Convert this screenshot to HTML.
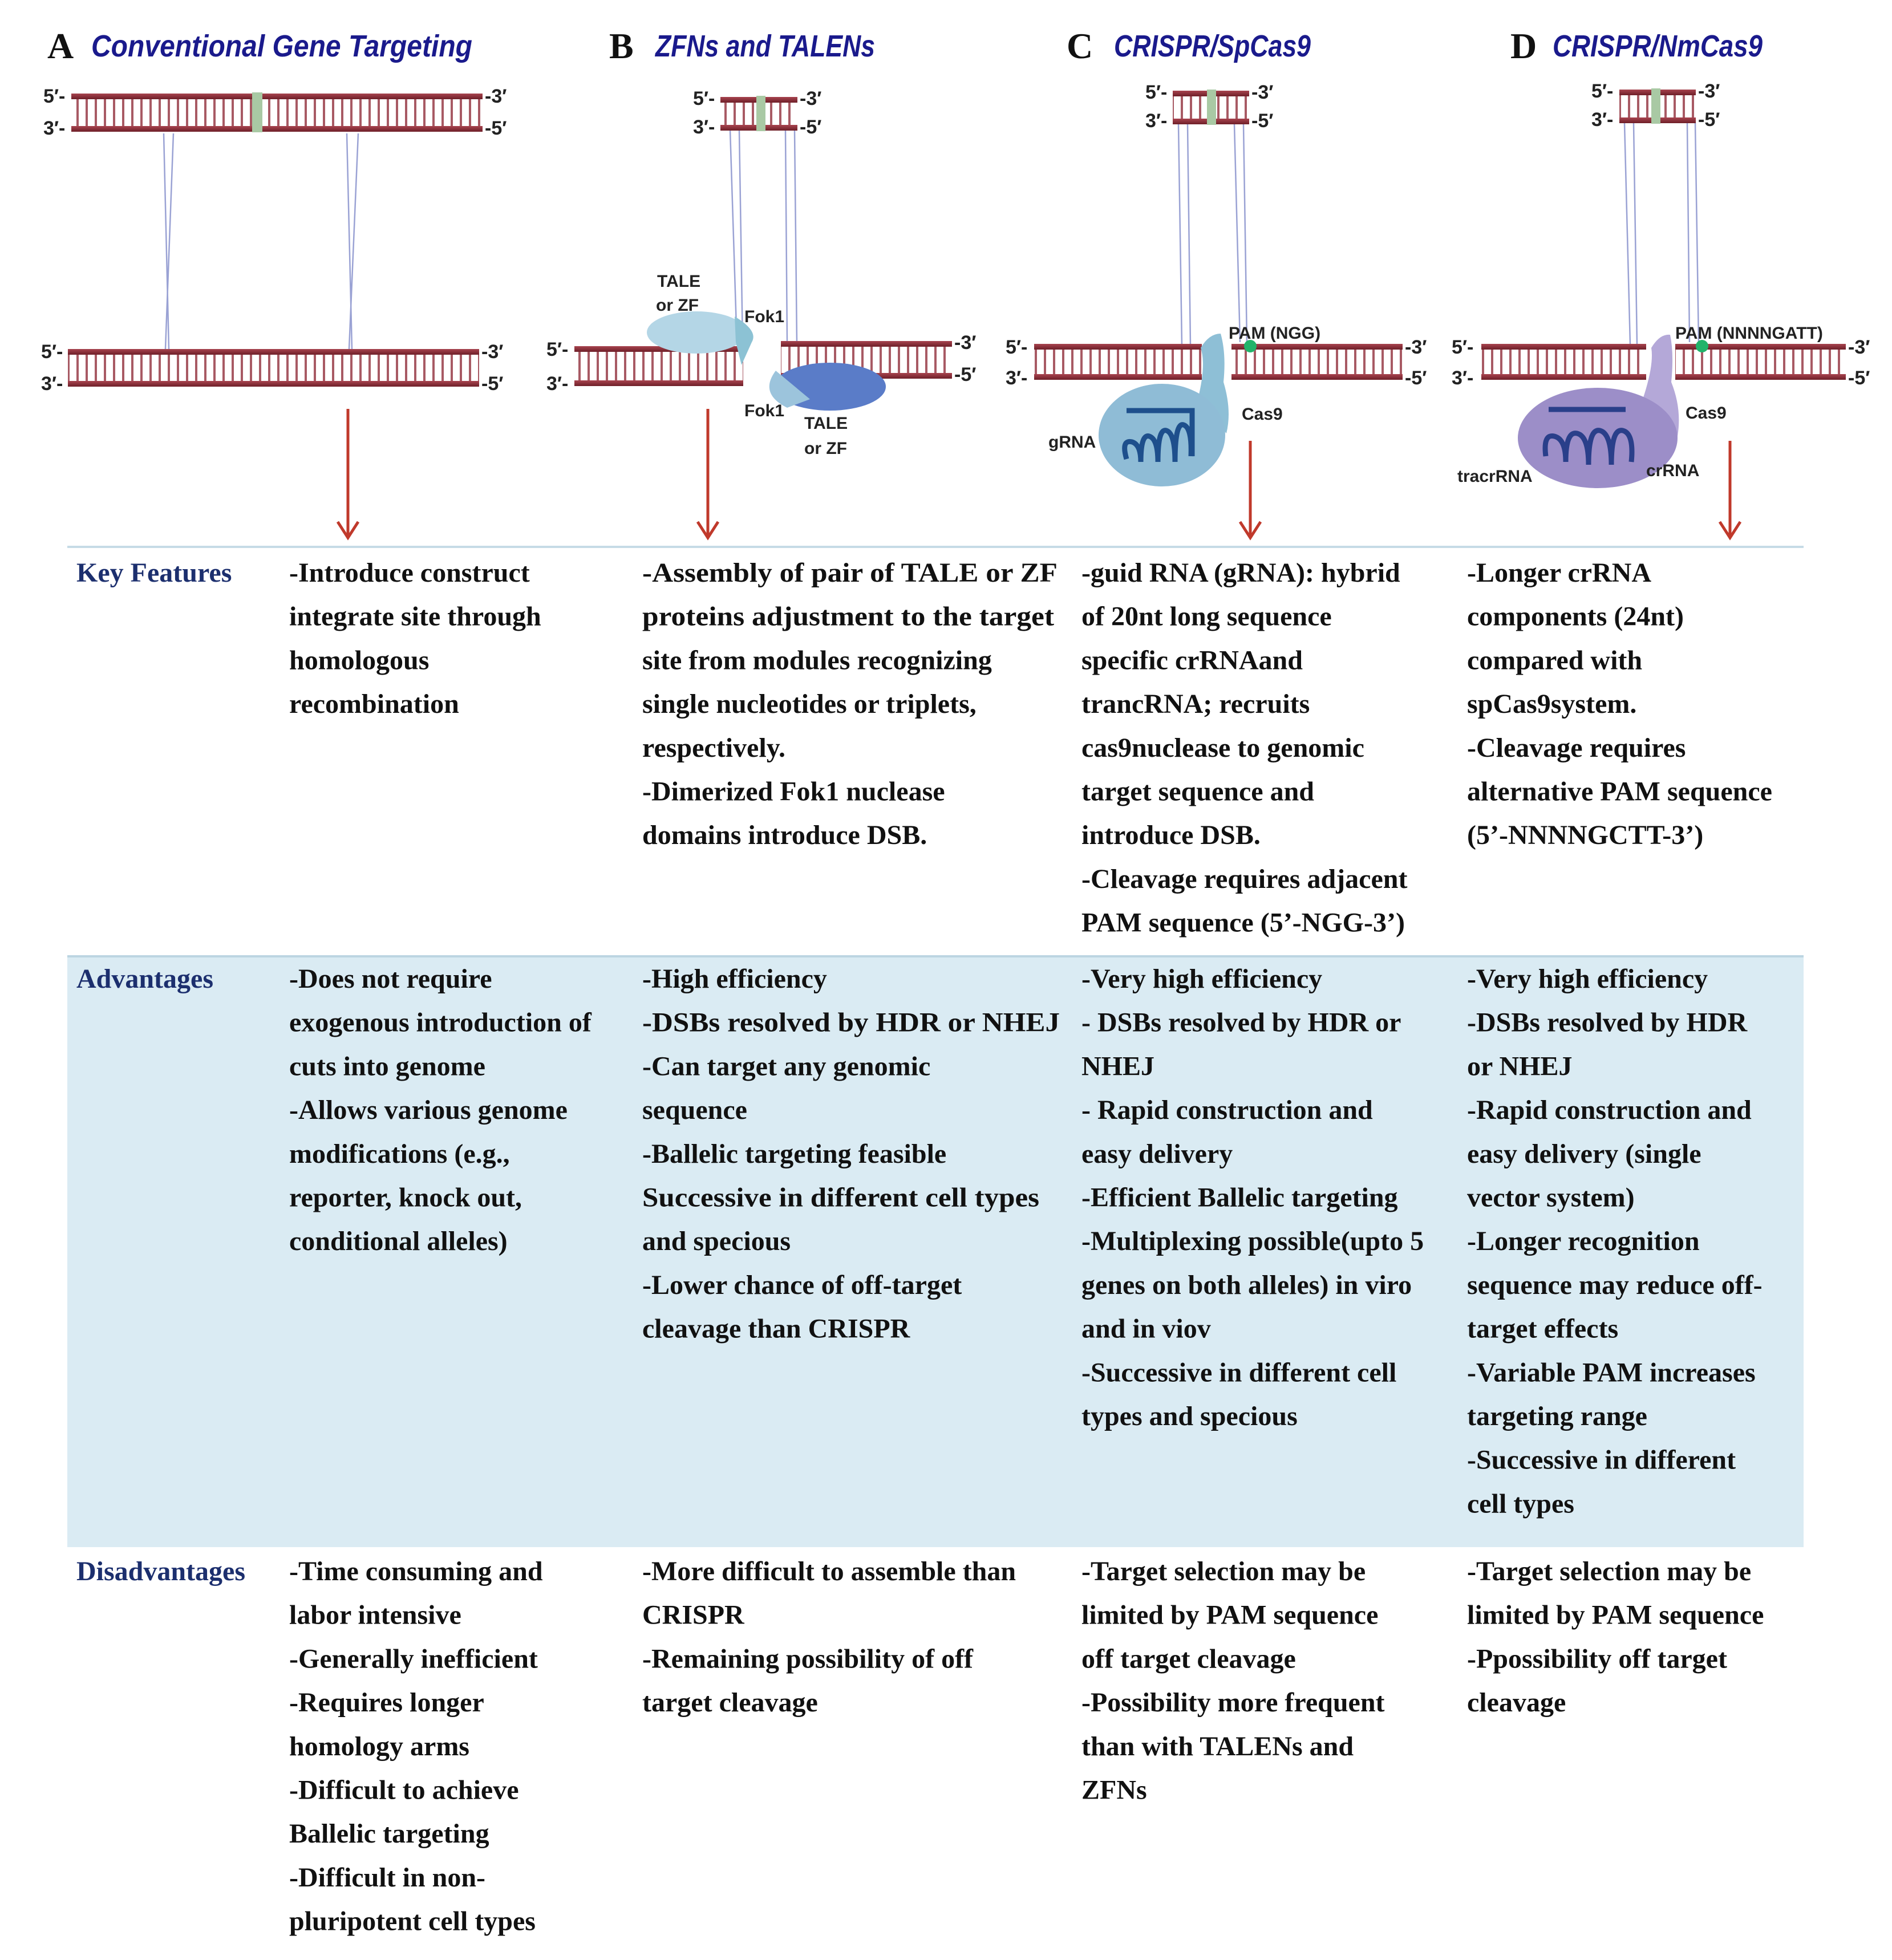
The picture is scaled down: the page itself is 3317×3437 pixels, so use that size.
<!DOCTYPE html>
<html><head><meta charset="utf-8"><style>
html,body{margin:0;padding:0;background:#fff;}
svg{display:block;}
.t{font-family:"Liberation Serif",serif;font-weight:bold;font-size:48px;fill:#111;}
.lab{font-family:"Liberation Serif",serif;font-weight:bold;font-size:48px;fill:#1c2f6e;}
.hd{font-family:"Liberation Sans",sans-serif;font-weight:bold;font-style:italic;font-size:54px;fill:#1a1a8c;}
.let{font-family:"Liberation Serif",serif;font-weight:bold;font-size:64px;fill:#111;}
.s{font-family:"Liberation Sans",sans-serif;font-weight:bold;font-size:30px;fill:#222;}
.p{font-family:"Liberation Sans",sans-serif;font-weight:bold;font-size:34px;fill:#222;}
</style></head><body>
<svg width="3317" height="3437" viewBox="0 0 3317 3437" xmlns="http://www.w3.org/2000/svg">
<defs>
<pattern id="r" width="16" height="10" patternUnits="userSpaceOnUse"><rect x="6" y="0" width="4" height="10" fill="#a85a64"/></pattern>
<linearGradient id="st" x1="0" y1="0" x2="0" y2="1"><stop offset="0" stop-color="#a8444f"/><stop offset="1" stop-color="#6e1f28"/></linearGradient>
</defs>
<rect width="3317" height="3437" fill="#fff"/>

<!-- titles -->
<text class="let" x="83" y="102">A</text><text class="hd" x="160" y="99" textLength="668" lengthAdjust="spacingAndGlyphs">Conventional Gene Targeting</text>
<text class="let" x="1068" y="102">B</text><text class="hd" x="1149" y="99" textLength="385" lengthAdjust="spacingAndGlyphs">ZFNs and TALENs</text>
<text class="let" x="1870" y="102">C</text><text class="hd" x="1953" y="99" textLength="345" lengthAdjust="spacingAndGlyphs">CRISPR/SpCas9</text>
<text class="let" x="2648" y="102">D</text><text class="hd" x="2722" y="99" textLength="368" lengthAdjust="spacingAndGlyphs">CRISPR/NmCas9</text>

<!-- connecting lines -->
<g stroke="#9aa2d4" stroke-width="2.5" fill="none">
<line x1="287" y1="234" x2="296" y2="612"/><line x1="304" y1="234" x2="290" y2="612"/>
<line x1="608" y1="234" x2="617" y2="612"/><line x1="628" y1="234" x2="612" y2="612"/>
<line x1="1280" y1="228" x2="1292" y2="605"/><line x1="1296" y1="228" x2="1302" y2="605"/>
<line x1="1377" y1="228" x2="1380" y2="600"/><line x1="1393" y1="228" x2="1397" y2="600"/>
<line x1="2066" y1="218" x2="2072" y2="605"/><line x1="2082" y1="218" x2="2087" y2="605"/>
<line x1="2164" y1="218" x2="2174" y2="600"/><line x1="2180" y1="218" x2="2186" y2="600"/>
<line x1="2848" y1="216" x2="2858" y2="605"/><line x1="2864" y1="216" x2="2870" y2="605"/>
<line x1="2958" y1="216" x2="2962" y2="600"/><line x1="2972" y1="216" x2="2978" y2="600"/>
</g>

<!-- DNA helper drawings -->
<g>
<!-- A top -->
<rect x="125" y="173" width="721" height="48" fill="url(#r)"/>
<rect x="125" y="164" width="721" height="10" fill="url(#st)"/><rect x="125" y="221" width="721" height="10" fill="url(#st)"/>
<rect x="442" y="162" width="18" height="70" fill="#a9c9a4"/>
<!-- A bottom -->
<rect x="119" y="622" width="721" height="48" fill="url(#r)"/>
<rect x="119" y="612" width="721" height="10" fill="url(#st)"/><rect x="119" y="668" width="721" height="10" fill="url(#st)"/>
<!-- B top -->
<rect x="1263" y="179" width="135" height="42" fill="url(#r)"/>
<rect x="1263" y="170" width="135" height="10" fill="url(#st)"/><rect x="1263" y="219" width="135" height="10" fill="url(#st)"/>
<rect x="1326" y="168" width="16" height="62" fill="#a9c9a4"/>
<!-- B bottom -->
<rect x="1007" y="617" width="296" height="52" fill="url(#r)"/>
<rect x="1007" y="607" width="296" height="10" fill="url(#st)"/><rect x="1007" y="667" width="296" height="10" fill="url(#st)"/>
<rect x="1369" y="608" width="300" height="48" fill="url(#r)"/>
<rect x="1369" y="598" width="300" height="10" fill="url(#st)"/><rect x="1369" y="654" width="300" height="10" fill="url(#st)"/>
<!-- C top -->
<rect x="2056" y="168" width="134" height="42" fill="url(#r)"/>
<rect x="2056" y="159" width="134" height="10" fill="url(#st)"/><rect x="2056" y="208" width="134" height="10" fill="url(#st)"/>
<rect x="2116" y="157" width="16" height="62" fill="#a9c9a4"/>
<!-- C bottom -->
<rect x="1813" y="612" width="294" height="46" fill="url(#r)"/>
<rect x="1813" y="603" width="294" height="10" fill="url(#st)"/><rect x="1813" y="656" width="294" height="10" fill="url(#st)"/>
<rect x="2159" y="612" width="300" height="46" fill="url(#r)"/>
<rect x="2159" y="603" width="300" height="10" fill="url(#st)"/><rect x="2159" y="656" width="300" height="10" fill="url(#st)"/>
<!-- D top -->
<rect x="2839" y="166" width="134" height="42" fill="url(#r)"/>
<rect x="2839" y="157" width="134" height="10" fill="url(#st)"/><rect x="2839" y="206" width="134" height="10" fill="url(#st)"/>
<rect x="2895" y="155" width="16" height="62" fill="#a9c9a4"/>
<!-- D bottom -->
<rect x="2597" y="612" width="289" height="46" fill="url(#r)"/>
<rect x="2597" y="603" width="289" height="10" fill="url(#st)"/><rect x="2597" y="656" width="289" height="10" fill="url(#st)"/>
<rect x="2937" y="612" width="299" height="46" fill="url(#r)"/>
<rect x="2937" y="603" width="299" height="10" fill="url(#st)"/><rect x="2937" y="656" width="299" height="10" fill="url(#st)"/>
</g>

<!-- DNA end labels -->
<g class="p">
<text x="76" y="180">5′-</text><text x="850" y="180">-3′</text>
<text x="76" y="236">3′-</text><text x="850" y="236">-5′</text>
<text x="72" y="628">5′-</text><text x="844" y="628">-3′</text>
<text x="72" y="684">3′-</text><text x="844" y="684">-5′</text>
<text x="1215" y="184">5′-</text><text x="1402" y="184">-3′</text>
<text x="1215" y="234">3′-</text><text x="1402" y="234">-5′</text>
<text x="958" y="624">5′-</text><text x="1673" y="612">-3′</text>
<text x="958" y="684">3′-</text><text x="1673" y="668">-5′</text>
<text x="2008" y="173">5′-</text><text x="2194" y="173">-3′</text>
<text x="2008" y="223">3′-</text><text x="2194" y="223">-5′</text>
<text x="1763" y="620">5′-</text><text x="2463" y="620">-3′</text>
<text x="1763" y="674">3′-</text><text x="2463" y="674">-5′</text>
<text x="2790" y="171">5′-</text><text x="2977" y="171">-3′</text>
<text x="2790" y="221">3′-</text><text x="2977" y="221">-5′</text>
<text x="2545" y="620">5′-</text><text x="3240" y="620">-3′</text>
<text x="2545" y="674">3′-</text><text x="3240" y="674">-5′</text>
</g>

<!-- B proteins -->
<ellipse cx="1221" cy="583" rx="87" ry="37" fill="#b4d6e6"/>
<path d="M1288 555 Q1330 580 1318 600 L1300 640 L1290 600 Z" fill="#8cc2d4"/>
<ellipse cx="1455" cy="678" rx="98" ry="42" fill="#5a7cc8"/>
<path d="M1360 650 Q1330 690 1380 715 L1420 700 Z" fill="#9cc4dc"/>
<g class="s">
<text x="1152" y="503">TALE</text><text x="1150" y="545">or ZF</text>
<text x="1305" y="565">Fok1</text><text x="1305" y="730">Fok1</text>
<text x="1410" y="752">TALE</text><text x="1410" y="796">or ZF</text>
</g>

<!-- C Cas9 -->
<path d="M2100 700 Q2115 640 2105 610 Q2120 585 2140 585 Q2150 620 2145 670 Q2160 720 2150 760 Z" fill="#8ebfd6"/>
<ellipse cx="2037" cy="763" rx="111" ry="90" fill="#8fbcd6"/>
<path d="M1975 720 H2090 V800 M1975 805 Q1965 770 1985 775 Q2000 780 2000 810 Q2000 760 2015 765 Q2030 770 2030 810 Q2030 750 2045 755 Q2060 760 2060 810 Q2060 740 2075 745 Q2090 750 2088 800" stroke="#1e4f8c" stroke-width="9" fill="none"/>
<circle cx="2192" cy="607" r="11" fill="#22b36a"/>
<text class="s" x="2154" y="594">PAM (NGG)</text>
<text class="s" x="2177" y="736">Cas9</text>
<text class="s" x="1838" y="785">gRNA</text>

<!-- D Cas9 -->
<path d="M2880 700 Q2900 640 2895 610 Q2910 585 2928 587 Q2935 620 2930 670 Q2950 720 2940 770 Z" fill="#b4a8d8"/>
<ellipse cx="2801" cy="768" rx="140" ry="88" fill="#9c8ec8"/>
<path d="M2715 718 H2850 M2710 800 Q2705 760 2725 765 Q2745 770 2745 810 Q2745 755 2765 760 Q2785 765 2785 815 Q2785 750 2805 755 Q2825 760 2825 815 Q2825 750 2845 755 Q2865 760 2860 810" stroke="#2a3f8a" stroke-width="9" fill="none"/>
<circle cx="2984" cy="607" r="11" fill="#22b36a"/>
<text class="s" x="2937" y="594">PAM (NNNNGATT)</text>
<text class="s" x="2955" y="734">Cas9</text>
<text class="s" x="2555" y="845">tracrRNA</text>
<text class="s" x="2886" y="835">crRNA</text>

<!-- red arrows -->
<g stroke="#c0392b" stroke-width="5" fill="none">
<line x1="610" y1="717" x2="610" y2="943"/><polyline points="592,915 610,943 628,915"/>
<line x1="1241" y1="717" x2="1241" y2="943"/><polyline points="1223,915 1241,943 1259,915"/>
<line x1="2192" y1="773" x2="2192" y2="943"/><polyline points="2174,915 2192,943 2210,915"/>
<line x1="3033" y1="773" x2="3033" y2="943"/><polyline points="3015,915 3033,943 3051,915"/>
</g>

<!-- table -->
<rect x="118" y="957" width="3044" height="4" fill="#c6dbe6"/>
<rect x="118" y="1675" width="3044" height="1038" fill="#daebf3"/>
<rect x="118" y="1675" width="3044" height="4" fill="#bcd5e2"/>

<text class="lab" x="134" y="1020">Key Features</text>
<text class="lab" x="134" y="1732">Advantages</text>
<text class="lab" x="134" y="2771">Disadvantages</text>

<text class="t" x="507" y="1020"><tspan x="507">-Introduce construct</tspan><tspan x="507" dy="76.7">integrate site through</tspan><tspan x="507" dy="76.7">homologous</tspan><tspan x="507" dy="76.7">recombination</tspan></text>
<text class="t" x="1126" y="1020"><tspan x="1126" textLength="728" lengthAdjust="spacingAndGlyphs">-Assembly of pair of TALE or ZF</tspan><tspan x="1126" dy="76.7" textLength="722" lengthAdjust="spacingAndGlyphs">proteins adjustment to the target</tspan><tspan x="1126" dy="76.7">site from modules recognizing</tspan><tspan x="1126" dy="76.7">single nucleotides or triplets,</tspan><tspan x="1126" dy="76.7">respectively.</tspan><tspan x="1126" dy="76.7">-Dimerized Fok1 nuclease</tspan><tspan x="1126" dy="76.7">domains introduce DSB.</tspan></text>
<text class="t" x="1896" y="1020"><tspan x="1896">-guid RNA (gRNA): hybrid</tspan><tspan x="1896" dy="76.7">of 20nt long sequence</tspan><tspan x="1896" dy="76.7">specific crRNAand</tspan><tspan x="1896" dy="76.7">trancRNA; recruits</tspan><tspan x="1896" dy="76.7">cas9nuclease to genomic</tspan><tspan x="1896" dy="76.7">target sequence and</tspan><tspan x="1896" dy="76.7">introduce DSB.</tspan><tspan x="1896" dy="76.7">-Cleavage requires adjacent</tspan><tspan x="1896" dy="76.7">PAM sequence (5’-NGG-3’)</tspan></text>
<text class="t" x="2572" y="1020"><tspan x="2572">-Longer crRNA</tspan><tspan x="2572" dy="76.7">components (24nt)</tspan><tspan x="2572" dy="76.7">compared with</tspan><tspan x="2572" dy="76.7">spCas9system.</tspan><tspan x="2572" dy="76.7">-Cleavage requires</tspan><tspan x="2572" dy="76.7">alternative PAM sequence</tspan><tspan x="2572" dy="76.7">(5’-NNNNGCTT-3’)</tspan></text>

<text class="t" x="507" y="1732"><tspan x="507">-Does not require</tspan><tspan x="507" dy="76.7">exogenous introduction of</tspan><tspan x="507" dy="76.7">cuts into genome</tspan><tspan x="507" dy="76.7">-Allows various genome</tspan><tspan x="507" dy="76.7">modifications (e.g.,</tspan><tspan x="507" dy="76.7">reporter, knock out,</tspan><tspan x="507" dy="76.7">conditional alleles)</tspan></text>
<text class="t" x="1126" y="1732"><tspan x="1126">-High efficiency</tspan><tspan x="1126" dy="76.7" textLength="732" lengthAdjust="spacingAndGlyphs">-DSBs resolved  by HDR or NHEJ</tspan><tspan x="1126" dy="76.7">-Can target any genomic</tspan><tspan x="1126" dy="76.7">sequence</tspan><tspan x="1126" dy="76.7">-Ballelic targeting feasible</tspan><tspan x="1126" dy="76.7" textLength="696" lengthAdjust="spacingAndGlyphs">Successive in different cell types</tspan><tspan x="1126" dy="76.7">and specious</tspan><tspan x="1126" dy="76.7">-Lower chance of off-target</tspan><tspan x="1126" dy="76.7">cleavage than CRISPR</tspan></text>
<text class="t" x="1896" y="1732"><tspan x="1896">-Very high efficiency</tspan><tspan x="1896" dy="76.7">- DSBs resolved  by HDR or</tspan><tspan x="1896" dy="76.7">NHEJ</tspan><tspan x="1896" dy="76.7">- Rapid construction and</tspan><tspan x="1896" dy="76.7">easy delivery</tspan><tspan x="1896" dy="76.7">-Efficient Ballelic targeting</tspan><tspan x="1896" dy="76.7">-Multiplexing possible(upto 5</tspan><tspan x="1896" dy="76.7">genes on both alleles) in viro</tspan><tspan x="1896" dy="76.7">and in viov</tspan><tspan x="1896" dy="76.7">-Successive in different cell</tspan><tspan x="1896" dy="76.7">types and specious</tspan></text>
<text class="t" x="2572" y="1732"><tspan x="2572">-Very high efficiency</tspan><tspan x="2572" dy="76.7">-DSBs resolved  by HDR</tspan><tspan x="2572" dy="76.7">or NHEJ</tspan><tspan x="2572" dy="76.7">-Rapid construction and</tspan><tspan x="2572" dy="76.7">easy delivery (single</tspan><tspan x="2572" dy="76.7">vector system)</tspan><tspan x="2572" dy="76.7">-Longer recognition</tspan><tspan x="2572" dy="76.7">sequence may reduce off-</tspan><tspan x="2572" dy="76.7">target effects</tspan><tspan x="2572" dy="76.7">-Variable PAM increases</tspan><tspan x="2572" dy="76.7">targeting range</tspan><tspan x="2572" dy="76.7">-Successive in different</tspan><tspan x="2572" dy="76.7">cell types</tspan></text>

<text class="t" x="507" y="2771"><tspan x="507">-Time consuming and</tspan><tspan x="507" dy="76.7">labor intensive</tspan><tspan x="507" dy="76.7">-Generally inefficient</tspan><tspan x="507" dy="76.7">-Requires longer</tspan><tspan x="507" dy="76.7">homology arms</tspan><tspan x="507" dy="76.7">-Difficult to achieve</tspan><tspan x="507" dy="76.7">Ballelic targeting</tspan><tspan x="507" dy="76.7">-Difficult in non-</tspan><tspan x="507" dy="76.7">pluripotent cell types</tspan></text>
<text class="t" x="1126" y="2771"><tspan x="1126">-More difficult to assemble than</tspan><tspan x="1126" dy="76.7">CRISPR</tspan><tspan x="1126" dy="76.7">-Remaining possibility of off</tspan><tspan x="1126" dy="76.7">target cleavage</tspan></text>
<text class="t" x="1896" y="2771"><tspan x="1896">-Target selection may be</tspan><tspan x="1896" dy="76.7">limited by PAM sequence</tspan><tspan x="1896" dy="76.7">off target cleavage</tspan><tspan x="1896" dy="76.7">-Possibility more frequent</tspan><tspan x="1896" dy="76.7">than with TALENs and</tspan><tspan x="1896" dy="76.7">ZFNs</tspan></text>
<text class="t" x="2572" y="2771"><tspan x="2572">-Target selection may be</tspan><tspan x="2572" dy="76.7">limited by PAM sequence</tspan><tspan x="2572" dy="76.7">-Ppossibility off target</tspan><tspan x="2572" dy="76.7">cleavage</tspan></text>
</svg>
</body></html>
